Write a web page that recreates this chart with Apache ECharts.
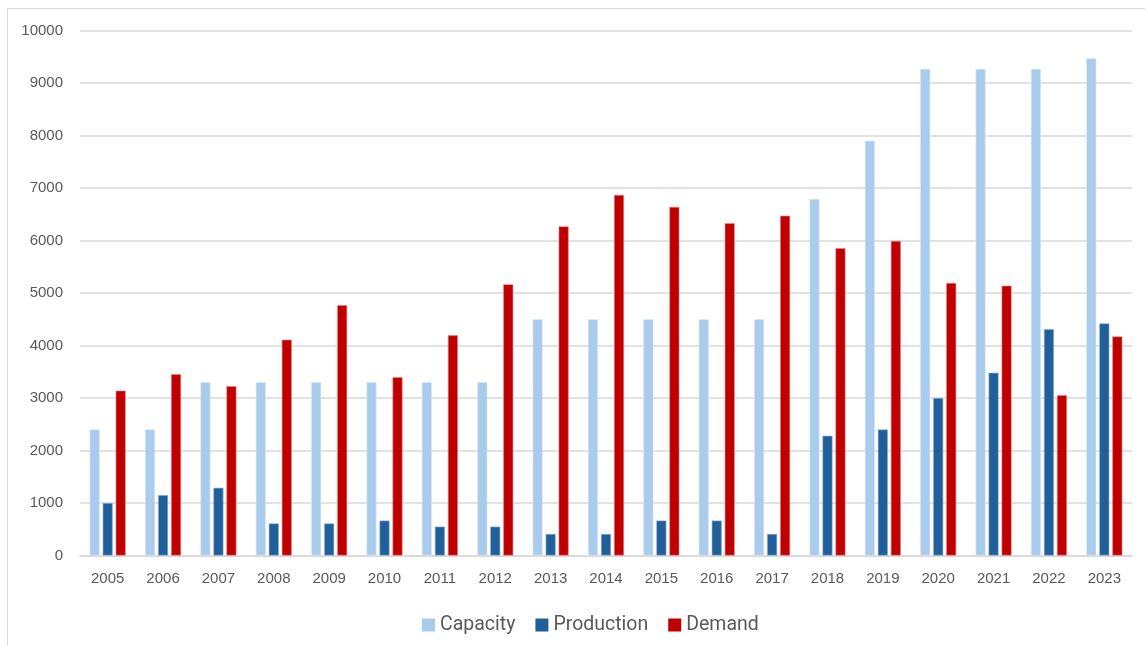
<!DOCTYPE html>
<html>
<head>
<meta charset="utf-8">
<script src="https://cdn.jsdelivr.net/npm/echarts@6/dist/echarts.min.js"></script>
<style>
html,body{margin:0;padding:0;background:#fff;}
#frame{position:absolute;left:7px;top:8px;width:1145px;height:645px;border:1px solid #d9d9d9;box-sizing:border-box;}
#chart{position:absolute;left:0;top:0;width:1145px;height:646px;}
</style>
</head>
<body>
<div id="frame"></div>
<div id="chart"></div>
<script>
const years = ['2005','2006','2007','2008','2009','2010','2011','2012','2013','2014','2015','2016','2017','2018','2019','2020','2021','2022','2023'];
const capacity = [2400,2400,3300,3300,3300,3300,3300,3300,4500,4500,4500,4500,4500,6790,7900,9270,9270,9270,9470];
const production = [1000,1150,1290,610,610,665,550,550,410,410,665,665,410,2280,2400,3000,3480,4310,4420];
const demand = [3140,3455,3225,4110,4770,3395,4195,5165,6270,6867,6640,6330,6472,5855,5990,5190,5138,3055,4172];
const yTicks = [0,1000,2000,3000,4000,5000,6000,7000,8000,9000,10000];

const chart = echarts.init(document.getElementById('chart'));
const labelFont = '"Liberation Sans Narrow", Roboto, "Liberation Sans", sans-serif';
chart.setOption({
  animation:false,
  backgroundColor:'transparent',
  grid:{left:80,right:13,top:30.5,bottom:90.5,containLabel:false},
  legend:{
    data:['Capacity','Production','Demand'],
    left:417, top:610,
    itemWidth:13,itemHeight:13,itemGap:20,
    icon:'rect',
    itemStyle:{borderWidth:0},
    textStyle:{color:'#595959',fontSize:19.5,fontFamily:labelFont}
  },
  xAxis:{
    type:'category',
    data:years,
    axisLine:{show:true,lineStyle:{color:'#d9d9d9',width:1.5}},
    axisTick:{show:false},
    axisLabel:{color:'#595959',fontSize:15,fontFamily:'"Liberation Sans", Arial, sans-serif',margin:16}
  },
  yAxis:{
    type:'value',
    min:yTicks[0],max:yTicks[yTicks.length-1],interval:1000,
    axisLine:{show:false},axisTick:{show:false},
    splitLine:{lineStyle:{color:'#d9d9d9',width:1.5}},
    axisLabel:{color:'#595959',fontSize:15,fontFamily:'"Liberation Sans", Arial, sans-serif',margin:17,formatter:function(v){return String(v);}}
  },
  series:[
    {name:'Capacity',type:'bar',data:capacity,barWidth:10,barGap:'30%',itemStyle:{color:'#a9cbec',borderColor:'#dbe8f6',borderWidth:0.6}},
    {name:'Production',type:'bar',data:production,barWidth:10,barGap:'30%',itemStyle:{color:'#215f9b',borderColor:'#8fb0d0',borderWidth:0.6}},
    {name:'Demand',type:'bar',data:demand,barWidth:10,barGap:'30%',itemStyle:{color:'#c00000',borderColor:'#e08a8a',borderWidth:0.6}}
  ]
});
</script>
</body>
</html>
